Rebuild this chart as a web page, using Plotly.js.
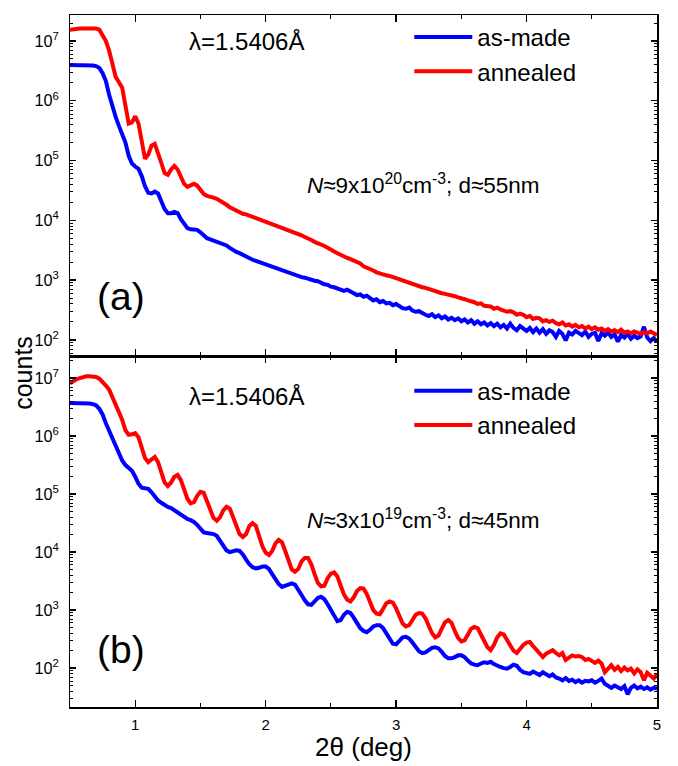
<!DOCTYPE html>
<html>
<head>
<meta charset="utf-8">
<script src="https://cdn.plot.ly/plotly-3.0.1.min.js"></script>
<style>html,body{margin:0;padding:0;background:#fff;}#chart{width:678px;height:766px;}</style>
</head>
<body>
<div id="chart"></div>
<script>
// 2θ (deg) scan grid
const twoTheta = [
0.5,0.525,0.55,0.575,0.6,0.625,0.65,0.675,0.7,0.725,
0.75,0.775,0.8,0.825,0.85,0.875,0.9,0.925,0.95,0.975,
1.0,1.025,1.05,1.075,1.1,1.125,1.15,1.175,1.2,1.225,
1.25,1.275,1.3,1.325,1.35,1.375,1.4,1.425,1.45,1.475,
1.5,1.525,1.55,1.575,1.6,1.625,1.65,1.675,1.7,1.725,
1.75,1.775,1.8,1.825,1.85,1.875,1.9,1.925,1.95,1.975,
2.0,2.025,2.05,2.075,2.1,2.125,2.15,2.175,2.2,2.225,
2.25,2.275,2.3,2.325,2.35,2.375,2.4,2.425,2.45,2.475,
2.5,2.525,2.55,2.575,2.6,2.625,2.65,2.675,2.7,2.725,
2.75,2.775,2.8,2.825,2.85,2.875,2.9,2.925,2.95,2.975,
3.0,3.025,3.05,3.075,3.1,3.125,3.15,3.175,3.2,3.225,
3.25,3.275,3.3,3.325,3.35,3.375,3.4,3.425,3.45,3.475,
3.5,3.525,3.55,3.575,3.6,3.625,3.65,3.675,3.7,3.725,
3.75,3.775,3.8,3.825,3.85,3.875,3.9,3.925,3.95,3.975,
4.0,4.025,4.05,4.075,4.1,4.125,4.15,4.175,4.2,4.225,
4.25,4.275,4.3,4.325,4.35,4.375,4.4,4.425,4.45,4.475,
4.5,4.525,4.55,4.575,4.6,4.625,4.65,4.675,4.7,4.725,
4.75,4.775,4.8,4.825,4.85,4.875,4.9,4.925,4.95,4.975,
5.0];

// panel (a): log10(counts)
const aAsMadeLog = [
6.60,6.60,6.60,6.60,6.60,6.60,6.60,6.59,6.58,6.55,
6.46,6.33,6.10,5.90,5.73,5.58,5.45,5.30,5.08,4.95,
4.90,4.86,4.74,4.57,4.46,4.45,4.48,4.45,4.32,4.19,
4.12,4.12,4.14,4.12,4.02,3.93,3.87,3.85,3.85,3.84,
3.80,3.74,3.70,3.68,3.66,3.63,3.61,3.60,3.58,3.54,
3.50,3.47,3.45,3.42,3.39,3.37,3.34,3.32,3.30,3.28,
3.27,3.25,3.22,3.20,3.18,3.16,3.14,3.12,3.10,3.08,
3.07,3.05,3.04,3.02,3.01,2.99,2.98,2.95,2.93,2.92,
2.89,2.88,2.86,2.85,2.82,2.84,2.80,2.78,2.75,2.76,
2.72,2.74,2.70,2.66,2.68,2.63,2.65,2.61,2.62,2.58,
2.60,2.56,2.53,2.52,2.54,2.49,2.47,2.48,2.44,2.42,
2.40,2.43,2.38,2.41,2.36,2.39,2.34,2.37,2.33,2.36,
2.31,2.34,2.29,2.33,2.27,2.31,2.26,2.29,2.24,2.28,
2.23,2.27,2.21,2.25,2.19,2.27,2.20,2.16,2.23,2.18,
2.15,2.20,2.13,2.19,2.12,2.18,2.10,2.16,2.13,2.05,
2.15,2.10,1.99,2.12,2.09,2.15,2.11,2.08,2.14,2.05,
2.10,2.12,1.98,2.11,2.07,2.12,2.05,2.09,1.97,2.08,
2.04,2.10,2.02,2.07,2.03,2.06,2.22,2.04,1.98,2.03,
1.97];

const aAnnealedLog = [
7.19,7.20,7.20,7.21,7.21,7.21,7.21,7.21,7.21,7.19,
7.10,7.00,6.84,6.62,6.40,6.31,6.22,5.92,5.62,5.64,
5.74,5.62,5.35,5.03,5.10,5.25,5.28,5.14,4.96,4.79,
4.76,4.85,4.91,4.85,4.72,4.61,4.56,4.58,4.61,4.58,
4.50,4.44,4.41,4.40,4.38,4.36,4.33,4.29,4.26,4.22,
4.19,4.17,4.14,4.11,4.10,4.08,4.06,4.04,4.02,4.00,
3.98,3.96,3.94,3.92,3.90,3.88,3.86,3.84,3.82,3.80,
3.77,3.75,3.72,3.70,3.67,3.64,3.62,3.59,3.57,3.54,
3.50,3.48,3.45,3.42,3.40,3.37,3.35,3.33,3.31,3.28,
3.23,3.21,3.18,3.16,3.13,3.11,3.10,3.08,3.07,3.05,
3.04,3.01,2.99,2.97,2.95,2.93,2.91,2.90,2.88,2.87,
2.85,2.83,2.81,2.80,2.78,2.77,2.76,2.74,2.73,2.71,
2.70,2.68,2.66,2.65,2.63,2.60,2.61,2.57,2.56,2.56,
2.52,2.54,2.51,2.49,2.47,2.48,2.46,2.42,2.44,2.42,
2.38,2.40,2.35,2.37,2.36,2.31,2.33,2.30,2.32,2.28,
2.26,2.29,2.24,2.26,2.22,2.25,2.21,2.23,2.19,2.22,
2.18,2.21,2.17,2.19,2.15,2.18,2.14,2.16,2.13,2.17,
2.12,2.14,2.11,2.14,2.12,2.10,2.13,2.11,2.14,2.10,
2.08];

// panel (b): log10(counts)
const bAsMadeLog = [
6.57,6.57,6.57,6.57,6.57,6.56,6.56,6.55,6.53,6.47,
6.37,6.22,6.09,5.97,5.83,5.72,5.58,5.50,5.46,5.40,
5.30,5.18,5.11,5.10,5.09,5.03,4.95,4.89,4.85,4.81,
4.78,4.76,4.72,4.69,4.64,4.59,4.57,4.55,4.52,4.47,
4.40,4.34,4.33,4.32,4.31,4.28,4.20,4.10,4.03,4.00,
4.01,4.03,4.02,3.96,3.87,3.79,3.74,3.72,3.73,3.75,
3.75,3.71,3.62,3.53,3.45,3.40,3.42,3.45,3.46,3.44,
3.36,3.26,3.17,3.10,3.09,3.15,3.21,3.23,3.19,3.10,
3.00,2.89,2.81,2.83,2.92,2.97,2.95,2.87,2.77,2.69,
2.64,2.62,2.66,2.72,2.74,2.74,2.69,2.59,2.49,2.42,
2.41,2.47,2.53,2.54,2.51,2.44,2.36,2.29,2.26,2.27,
2.31,2.35,2.36,2.34,2.28,2.21,2.17,2.17,2.19,2.22,
2.22,2.19,2.13,2.08,2.06,2.05,2.08,2.10,2.09,2.11,
2.07,2.04,2.02,2.00,1.99,2.02,2.06,2.04,1.97,1.93,
1.92,1.90,1.94,1.91,1.88,1.93,1.90,1.86,1.89,1.84,
1.82,1.79,1.83,1.78,1.80,1.76,1.79,1.75,1.78,1.77,
1.79,1.75,1.78,1.82,1.73,1.69,1.66,1.70,1.67,1.64,
1.69,1.55,1.66,1.70,1.65,1.68,1.64,1.67,1.63,1.66,
1.65];

const bAnnealedLog = [
6.91,6.95,6.98,7.00,7.02,7.03,7.03,7.03,7.02,6.99,
6.94,6.87,6.80,6.67,6.55,6.42,6.28,6.10,6.02,6.03,
6.05,5.98,5.82,5.62,5.55,5.60,5.64,5.55,5.38,5.20,
5.14,5.20,5.30,5.33,5.24,5.07,4.92,4.84,4.86,4.97,
5.04,5.02,4.88,4.72,4.59,4.54,4.60,4.72,4.78,4.75,
4.60,4.44,4.31,4.26,4.31,4.45,4.50,4.45,4.28,4.10,
3.99,3.95,4.02,4.15,4.21,4.17,4.02,3.84,3.70,3.66,
3.71,3.84,3.90,3.90,3.79,3.62,3.47,3.41,3.42,3.55,
3.63,3.65,3.58,3.42,3.27,3.18,3.15,3.22,3.33,3.38,
3.37,3.28,3.12,3.00,2.94,2.93,3.02,3.12,3.15,3.13,
3.03,2.88,2.77,2.72,2.74,2.83,2.92,2.95,2.94,2.86,
2.72,2.60,2.53,2.56,2.68,2.79,2.83,2.78,2.64,2.52,
2.46,2.48,2.58,2.68,2.71,2.69,2.58,2.45,2.36,2.31,
2.40,2.53,2.60,2.58,2.48,2.38,2.30,2.26,2.33,2.40,
2.44,2.45,2.38,2.32,2.24,2.19,2.25,2.28,2.31,2.26,
2.22,2.26,2.14,2.18,2.22,2.20,2.21,2.19,2.14,2.16,
2.12,2.09,2.13,2.08,1.93,2.00,2.05,1.97,2.02,1.95,
2.01,1.96,1.99,1.91,1.98,1.93,1.79,1.92,1.86,1.82,
1.90];

const seriesNames = ['as-made', 'annealed'];
const seriesColors = ['#0000ff', '#ff0000'];
const xTitle = '2θ (deg)';
const yTitle = 'counts';
const wavelengthLabel = 'λ=1.5406Å';
const panelALabel = '(a)';
const panelBLabel = '(b)';
const panelAInfo = '<i>N</i>≈9x10<sup>20</sup>cm<sup>-3</sup>; d≈55nm';
const panelBInfo = '<i>N</i>≈3x10<sup>19</sup>cm<sup>-3</sup>; d≈45nm';

const toCounts = arr => arr.map(v => Math.pow(10, v));
const FONT = 'Arial, "Liberation Sans", sans-serif';

function trace(logs, i, xa, ya, leg) {
  return {
    x: twoTheta, y: toCounts(logs), type: 'scatter', mode: 'lines',
    name: seriesNames[i], xaxis: xa, yaxis: ya, legend: leg,
    line: {color: seriesColors[i], width: 4}
  };
}

const data = [
  trace(aAsMadeLog, 0, 'x2', 'y2', 'legend'),
  trace(aAnnealedLog, 1, 'x2', 'y2', 'legend'),
  trace(bAsMadeLog, 0, 'x', 'y', 'legend2'),
  trace(bAnnealedLog, 1, 'x', 'y', 'legend2')
];

const axLine = {showline: true, linecolor: 'black', linewidth: 1.5, mirror: 'ticks',
  ticks: 'inside', tickcolor: 'black', tickwidth: 1.3, showgrid: false, zeroline: false};

const xBase = Object.assign({}, axLine, {
  range: [0.5, 5], tickmode: 'linear', tick0: 0, dtick: 1, ticklen: 7, ticklabelstandoff: 3,
  minor: {tickmode: 'linear', tick0: 0, dtick: 0.5, ticks: 'inside', ticklen: 4, tickcolor: 'black', tickwidth: 1.2, showgrid: false},
  tickfont: {size: 15, color: 'black', family: FONT}
});

const yBase = Object.assign({}, axLine, {
  type: 'log', tickmode: 'linear', tick0: 0, dtick: 1, ticklen: 6, exponentformat: 'power',
  ticklabelstandoff: 7,
  minor: {dtick: 'D1', ticks: 'inside', ticklen: 3, tickcolor: 'black', tickwidth: 1, showgrid: false},
  tickfont: {size: 13, color: 'black', family: FONT}
});

const split = 351 / 692;

const legendBase = {xanchor: 'left', yanchor: 'top', bgcolor: 'rgba(0,0,0,0)',
  font: {size: 24, family: FONT, color: 'black'}, tracegroupgap: 0, itemwidth: 58};

const layout = {
  width: 678, height: 766,
  margin: {l: 70, r: 21, t: 15, b: 59},
  paper_bgcolor: 'white', plot_bgcolor: 'white',
  font: {family: FONT, color: 'black'},
  showlegend: true,
  xaxis: Object.assign({}, xBase, {anchor: 'y', domain: [0, 1],
    title: {text: xTitle, font: {size: 26, family: FONT, color: 'black'}, standoff: 0}}),
  xaxis2: Object.assign({}, xBase, {anchor: 'y2', matches: 'x', showticklabels: false, domain: [0, 1]}),
  yaxis: Object.assign({}, yBase, {anchor: 'x', domain: [0, split], range: [1.33, 7.38]}),
  yaxis2: Object.assign({}, yBase, {anchor: 'x2', domain: [split, 1], range: [1.73, 7.435]}),
  legend: Object.assign({}, legendBase, {x: 0.578, y: 1.0}),
  legend2: Object.assign({}, legendBase, {x: 0.578, y: 0.489}),
  annotations: [
    {text: yTitle, xref: 'paper', yref: 'paper', x: -0.080, y: 0.483, textangle: -90,
      showarrow: false, xanchor: 'center', yanchor: 'middle', font: {size: 25, family: FONT}},
    {text: wavelengthLabel, xref: 'paper', yref: 'paper', x: 0.199, y: 0.961,
      showarrow: false, xanchor: 'left', yanchor: 'middle', font: {size: 24, family: FONT}},
    {text: panelAInfo, xref: 'paper', yref: 'paper', x: 0.400, y: 0.756,
      showarrow: false, xanchor: 'left', yanchor: 'middle', font: {size: 22.5, family: FONT}},
    {text: panelALabel, xref: 'paper', yref: 'paper', x: 0.0426, y: 0.5925,
      showarrow: false, xanchor: 'left', yanchor: 'middle', font: {size: 39, family: FONT}},
    {text: wavelengthLabel, xref: 'paper', yref: 'paper', x: 0.199, y: 0.449,
      showarrow: false, xanchor: 'left', yanchor: 'middle', font: {size: 24, family: FONT}},
    {text: panelBInfo, xref: 'paper', yref: 'paper', x: 0.400, y: 0.272,
      showarrow: false, xanchor: 'left', yanchor: 'middle', font: {size: 22.5, family: FONT}},
    {text: panelBLabel, xref: 'paper', yref: 'paper', x: 0.0426, y: 0.0824,
      showarrow: false, xanchor: 'left', yanchor: 'middle', font: {size: 39, family: FONT}}
  ]
};

Plotly.newPlot('chart', data, layout, {staticPlot: true, displayModeBar: false});
</script>
</body>
</html>
